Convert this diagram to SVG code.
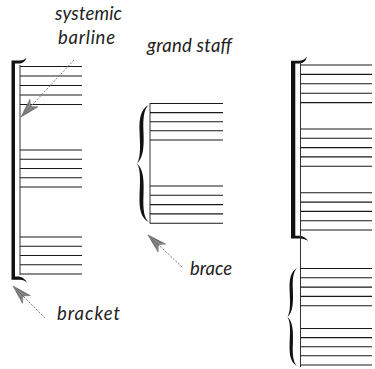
<svg xmlns="http://www.w3.org/2000/svg" xmlns:xlink="http://www.w3.org/1999/xlink" width="375" height="369" viewBox="0 0 375 369">
<style>
.st{stroke:#1a1a1a;stroke-width:1.1;fill:none}
.bl{stroke:#333;stroke-width:1;fill:none}
.br{fill:#111;stroke:none}
.lbl{font-family:Lato,"Open Sans",sans-serif;font-style:italic;font-size:18.5px;fill:#222}
.arr{stroke:#7a7a7a;stroke-width:1;stroke-dasharray:2 1.5;fill:none}
</style>
<defs>
<marker id="ah" markerUnits="userSpaceOnUse" viewBox="-21 -6 22 12" refX="0" refY="0" markerWidth="22" markerHeight="12" orient="auto">
<path d="M0,0 L-19,-5.5 L-14,0 L-19,5.5 Z" fill="#8a8a8a" stroke="#666" stroke-width="0.6"/>
<path d="M-3,0 L-16,0 M-6,-1.5 L-15,-3.2 M-6,1.5 L-15,3.2" stroke="#555" stroke-width="0.6"/>
</marker>
<g id="brace-shape">
<path d="M10,-50 C3.5,-46.5 1.8,-39 2.2,-28 C2.6,-16 3.6,-6 0,0 C5.8,-5 6.2,-15 5.6,-28 C5.2,-39 6,-46 10,-50 Z"/>
<path d="M10,50 C3.5,46.5 1.8,39 2.2,28 C2.6,16 3.6,6 0,0 C5.8,5 6.2,15 5.6,28 C5.2,39 6,46 10,50 Z"/>
</g>
</defs>
<rect width="375" height="369" fill="#fff"/>

<g id="system-left">
<path class="br" d="M11.5,279.8 L11.5,60.5 L20,60.5 C23,60.5 25,59.5 26.5,57.5 C25.5,61 23,63.5 19,63.5 L15,63.5 L15,276.5 L19,276.5 C23,277 25.5,279.5 27,283 C25,281 23,279.8 20,279.8 Z"/>
<line class="bl" x1="20" y1="65" x2="20" y2="275"/>
<path class="st" d="M20,66.5H82M20,76H82M20,85.5H82M20,95H82M20,104.5H82"/>
<path class="st" d="M20,150H82M20,159.25H82M20,168.5H82M20,177.75H82M20,187H82"/>
<path class="st" d="M20,237H82M20,246.25H82M20,255.5H82M20,264.75H82M20,274H82"/>
</g>

<g id="grand-staff">
<use xlink:href="#brace-shape" class="br" transform="translate(137,163.5) scale(1.15,1.17)"/>
<line class="bl" x1="150" y1="103" x2="150" y2="223.5"/>
<path class="st" d="M150,103.5H223M150,112.6H223M150,121.7H223M150,130.8H223M150,140H223"/>
<path class="st" d="M150,186H223M150,195.3H223M150,204.6H223M150,213.9H223M150,223.2H223"/>
</g>

<g id="system-right">
<path class="br" d="M291,238.5 L291,60.8 L299,60.8 C302,60.8 305,59.5 307,56.5 C306,61 303,63.5 299,63.5 L295.3,63.5 L295.3,235.8 L299.5,235.8 C303.5,236.3 306.5,238 308,241 C306,239.5 303,238.5 300,238.5 Z"/>
<line class="bl" x1="300.5" y1="62" x2="300.5" y2="367"/>
<path class="st" d="M300.5,65H372M300.5,74.4H372M300.5,83.8H372M300.5,93.2H372M300.5,102.6H372"/>
<path class="st" d="M300.5,129H372M300.5,138.3H372M300.5,147.6H372M300.5,156.9H372M300.5,166.2H372"/>
<path class="st" d="M300.5,192.8H372M300.5,202.1H372M300.5,211.4H372M300.5,220.7H372M300.5,230H372"/>
<path class="st" d="M300.5,268.5H372M300.5,277.8H372M300.5,287.1H372M300.5,296.4H372M300.5,305.7H372"/>
<path class="st" d="M300.5,328.5H372M300.5,337.6H372M300.5,346.7H372M300.5,355.8H372M300.5,365H372"/>
<use xlink:href="#brace-shape" class="br" transform="translate(287.5,317) scale(0.95,0.98)"/>
</g>

<g id="connectors">
<line class="arr" x1="74" y1="60" x2="21" y2="117" marker-end="url(#ah)"/>
<line class="arr" x1="45" y1="318" x2="13" y2="286" marker-end="url(#ah)"/>
<line class="arr" x1="182" y1="267" x2="148" y2="235" marker-end="url(#ah)"/>
</g>

<g id="labels">
<text class="lbl" x="55" y="20" textLength="67" lengthAdjust="spacing">systemic</text>
<text class="lbl" x="58" y="44" textLength="57" lengthAdjust="spacing">barline</text>
<text class="lbl" x="147" y="52" textLength="85" lengthAdjust="spacing">grand staff</text>
<text class="lbl" x="190" y="275" textLength="42" lengthAdjust="spacing">brace</text>
<text class="lbl" x="57" y="320" textLength="63" lengthAdjust="spacing">bracket</text>
</g>
</svg>
